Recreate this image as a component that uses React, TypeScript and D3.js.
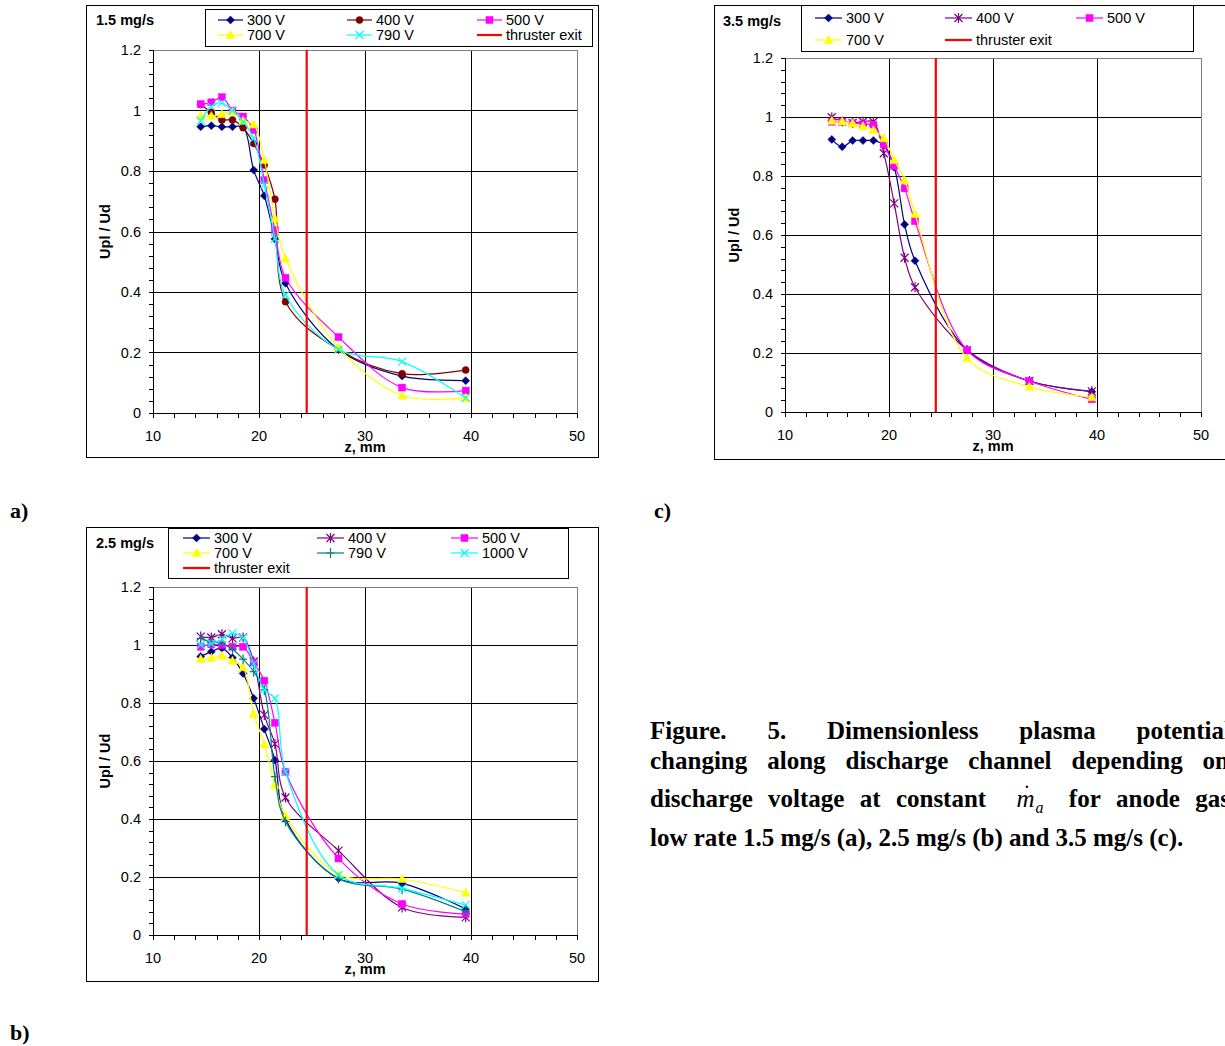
import React from "react";
import * as d3 from "d3";

// ---------- data ----------
const zPos = [14.5, 15.5, 16.5, 17.5, 18.5, 19.5, 20.5, 21.5, 22.5, 27.5, 33.5, 39.5];
const thrusterExit = 24.5;
const xTicks = [10, 20, 30, 40, 50];
const yTicks = [0, 0.2, 0.4, 0.6, 0.8, 1, 1.2];

// Panel a) 1.5 mg/s
const a300 = [0.946, 0.95, 0.946, 0.946, 0.946, 0.803, 0.718, 0.575, 0.429, 0.21, 0.122, 0.107];
const a400 = [1.02, 0.994, 0.969, 0.969, 0.943, 0.891, 0.82, 0.707, 0.368, 0.21, 0.13, 0.142];
const a500 = [1.021, 1.027, 1.044, 1.0, 0.98, 0.936, 0.77, 0.605, 0.447, 0.251, 0.084, 0.074];
const a700 = [0.982, 0.982, 0.988, 0.996, 0.966, 0.954, 0.836, 0.643, 0.511, 0.217, 0.058, 0.05];
const a790 = [0.966, 1.013, 1.025, 1.0, 0.963, 0.908, 0.754, 0.577, 0.39, 0.21, 0.17, 0.05];

// Panel b) 2.5 mg/s
const b300 = [0.96, 0.977, 0.989, 0.956, 0.902, 0.816, 0.71, 0.603, 0.4, 0.195, 0.178, 0.09];
const b400 = [1.029, 1.026, 1.037, 1.023, 1.026, 0.943, 0.759, 0.659, 0.474, 0.291, 0.095, 0.061];
const b500 = [0.994, 1.002, 1.0, 0.994, 0.994, 0.94, 0.877, 0.732, 0.563, 0.264, 0.107, 0.072];
const b700 = [0.952, 0.956, 0.963, 0.946, 0.923, 0.762, 0.658, 0.517, 0.41, 0.209, 0.193, 0.146];
const b790 = [1.023, 1.011, 1.006, 0.985, 0.951, 0.908, 0.845, 0.546, 0.391, 0.195, 0.158, 0.08];
const b1000 = [1.0, 1.005, 1.02, 1.04, 1.025, 0.935, 0.845, 0.816, 0.563, 0.207, 0.161, 0.103];

// Panel c) 3.5 mg/s
const c300 = [0.924, 0.899, 0.92, 0.92, 0.92, 0.905, 0.83, 0.636, 0.513, 0.21, 0.105, 0.069];
const c400 = [0.999, 0.985, 0.98, 0.984, 0.984, 0.877, 0.707, 0.523, 0.423, 0.21, 0.105, 0.07];
const c500 = [0.984, 0.984, 0.979, 0.975, 0.973, 0.907, 0.834, 0.758, 0.647, 0.21, 0.105, 0.043];
const c700 = [0.987, 0.985, 0.978, 0.969, 0.956, 0.928, 0.854, 0.786, 0.671, 0.182, 0.086, 0.05];

// caption lines (justified words)
const capLine1 = ["Figure.", "5.", "Dimensionless", "plasma", "potential"];
const capLine2 = ["changing", "along", "discharge", "channel", "depending", "on"];
const capLine3 = ["discharge", "voltage", "at", "constant", "§MA§", "for", "anode", "gas"];
const capLine4 = "low rate 1.5 mg/s (a), 2.5 mg/s (b) and 3.5 mg/s (c).";

type Series = { name: string; values: number[]; color: string; marker: string };

const seriesA: Series[] = [
  { name: "300 V", values: a300, color: "#000080", marker: "diamond" },
  { name: "400 V", values: a400, color: "#800000", marker: "circle" },
  { name: "500 V", values: a500, color: "#FF00FF", marker: "square" },
  { name: "700 V", values: a700, color: "#FFFF00", marker: "triangle" },
  { name: "790 V", values: a790, color: "#00FFFF", marker: "x" },
];
const seriesB: Series[] = [
  { name: "300 V", values: b300, color: "#000080", marker: "diamond" },
  { name: "400 V", values: b400, color: "#800080", marker: "asterisk" },
  { name: "500 V", values: b500, color: "#FF00FF", marker: "square" },
  { name: "700 V", values: b700, color: "#FFFF00", marker: "triangle" },
  { name: "790 V", values: b790, color: "#008080", marker: "plus" },
  { name: "1000 V", values: b1000, color: "#00FFFF", marker: "x" },
];
const seriesC: Series[] = [
  { name: "300 V", values: c300, color: "#000080", marker: "diamond" },
  { name: "400 V", values: c400, color: "#800080", marker: "asterisk" },
  { name: "500 V", values: c500, color: "#FF00FF", marker: "square" },
  { name: "700 V", values: c700, color: "#FFFF00", marker: "triangle" },
];

const FONT = "'Liberation Sans', Arial, sans-serif";
const SERIF = "'Liberation Serif', 'Times New Roman', serif";
const CAP_SIZE = 25;

function Marker({ type, x, y, color }: { type: string; x: number; y: number; color: string }) {
  const t = `translate(${x},${y})`;
  switch (type) {
    case "diamond":
      return <path transform={t} d="M0,-4L4,0L0,4L-4,0Z" fill={color} stroke={color} strokeWidth={0.5} />;
    case "circle":
      return <circle cx={x} cy={y} r={3.5} fill={color} stroke={color} strokeWidth={0.5} />;
    case "square":
      return <rect x={x - 3.5} y={y - 3.5} width={7} height={7} fill={color} stroke={color} strokeWidth={0.5} />;
    case "triangle":
      return <path transform={t} d="M0,-4.5L4.5,3.5L-4.5,3.5Z" fill={color} stroke={color} strokeWidth={0.5} />;
    case "x":
      return <path transform={t} d="M-4,-4L4,4M-4,4L4,-4" fill="none" stroke={color} strokeWidth={1.2} />;
    case "asterisk":
      return <path transform={t} d="M-4,-4L4,4M-4,4L4,-4M0,-5L0,5" fill="none" stroke={color} strokeWidth={1.2} />;
    case "plus":
      return <path transform={t} d="M-4,0L4,0M0,-5L0,5" fill="none" stroke={color} strokeWidth={1.2} />;
    default:
      return null;
  }
}

type PanelProps = {
  title: string;
  series: Series[];
  box: { x: number; y: number; w: number; h: number };
  plot: { left: number; right: number; top: number; bottom: number };
  titlePos: { x: number; y: number };
  legendBox: { x: number; y: number; w: number; h: number };
  legendCols: number[];
  legendRows: number[];
  legendLine: number;
  yLabelX: number;
};

function Panel(p: PanelProps) {
  const xs = d3.scaleLinear().domain([10, 50]).range([p.plot.left, p.plot.right]);
  const ys = d3.scaleLinear().domain([0, 1.2]).range([p.plot.bottom, p.plot.top]);
  const line = d3
    .line<number>()
    .x((_, i) => xs(zPos[i]))
    .y((d) => ys(d))
    .curve(d3.curveCatmullRom.alpha(0.5));
  const minorY = d3.range(0, 31).map((i) => i * 0.04);
  const minorX = d3.range(10, 51, 2);

  const legendItems = [...p.series.map((s) => ({ ...s, exit: false })), { name: "thruster exit", values: [], color: "#FF0000", marker: "", exit: true }];

  return (
    <g>
      <rect x={p.box.x + 0.5} y={p.box.y + 0.5} width={p.box.w} height={p.box.h} fill="white" stroke="black" strokeWidth={1} />
      <text x={p.titlePos.x} y={p.titlePos.y} fontFamily={FONT} fontWeight="bold" fontSize={14.5}>
        {p.title}
      </text>
      {yTicks.slice(1, -1).map((t) => (
        <line key={"gy" + t} x1={p.plot.left} x2={p.plot.right} y1={Math.round(ys(t)) + 0.5} y2={Math.round(ys(t)) + 0.5} stroke="black" strokeWidth={1} />
      ))}
      {xTicks.slice(1, -1).map((t) => (
        <line key={"gx" + t} y1={p.plot.top} y2={p.plot.bottom} x1={Math.round(xs(t)) + 0.5} x2={Math.round(xs(t)) + 0.5} stroke="black" strokeWidth={1} />
      ))}
      <line x1={p.plot.left} x2={p.plot.right} y1={p.plot.top + 0.5} y2={p.plot.top + 0.5} stroke="#808080" />
      <line x1={p.plot.right + 0.5} x2={p.plot.right + 0.5} y1={p.plot.top} y2={p.plot.bottom} stroke="#808080" />
      <line x1={p.plot.left + 0.5} x2={p.plot.left + 0.5} y1={p.plot.top} y2={p.plot.bottom} stroke="black" />
      <line x1={p.plot.left} x2={p.plot.right + 1} y1={p.plot.bottom + 0.5} y2={p.plot.bottom + 0.5} stroke="black" />
      {minorY.map((t) => (
        <line key={"my" + t} x1={p.plot.left - 4} x2={p.plot.left} y1={Math.round(ys(t)) + 0.5} y2={Math.round(ys(t)) + 0.5} stroke="black" />
      ))}
      {minorX.map((t) => (
        <line key={"mx" + t} y1={p.plot.bottom} y2={p.plot.bottom + 5} x1={Math.round(xs(t)) + 0.5} x2={Math.round(xs(t)) + 0.5} stroke="black" />
      ))}
      {yTicks.map((t) => (
        <text key={"ty" + t} x={p.plot.left - 12} y={ys(t) + 5} textAnchor="end" fontFamily={FONT} fontSize={14.5}>
          {d3.format("")(t)}
        </text>
      ))}
      {xTicks.map((t) => (
        <text key={"tx" + t} x={xs(t)} y={p.plot.bottom + 28} textAnchor="middle" fontFamily={FONT} fontSize={14.5}>
          {t}
        </text>
      ))}
      <text x={xs(30)} y={p.plot.bottom + 39} textAnchor="middle" fontFamily={FONT} fontSize={14.5} fontWeight="bold">
        z, mm
      </text>
      <text
        transform={`translate(${p.yLabelX},${(p.plot.top + p.plot.bottom) / 2}) rotate(-90)`}
        textAnchor="middle"
        fontFamily={FONT}
        fontSize={14.5}
        fontWeight="bold"
      >
        Upl / Ud
      </text>
      {p.series.map((s) => (
        <g key={s.name}>
          <path d={line(s.values) || ""} fill="none" stroke={s.color} strokeWidth={1.2} />
          {s.values.map((v, i) => (
            <Marker key={i} type={s.marker} x={xs(zPos[i])} y={ys(v)} color={s.color} />
          ))}
        </g>
      ))}
      <line x1={xs(thrusterExit)} x2={xs(thrusterExit)} y1={ys(1.2)} y2={ys(0)} stroke="#FF0000" strokeWidth={2.2} />
      <rect x={p.legendBox.x + 0.5} y={p.legendBox.y + 0.5} width={p.legendBox.w} height={p.legendBox.h} fill="white" stroke="black" />
      {legendItems.map((it, i) => {
        const cx = p.legendCols[i % 3];
        const cy = p.legendRows[Math.floor(i / 3)];
        return (
          <g key={"lg" + i}>
            <line x1={cx} x2={cx + p.legendLine} y1={cy} y2={cy} stroke={it.color} strokeWidth={it.exit ? 2.2 : 1.2} />
            {!it.exit && <Marker type={it.marker} x={cx + p.legendLine / 2} y={cy} color={it.color} />}
            <text x={cx + p.legendLine + 4} y={cy + 5} fontFamily={FONT} fontSize={14.5}>
              {it.name}
            </text>
          </g>
        );
      })}
    </g>
  );
}

let ctx: CanvasRenderingContext2D | null = null;
function measure(word: string): number {
  if (word === "§MA§") return 52;
  if (!ctx && typeof document !== "undefined") {
    ctx = document.createElement("canvas").getContext("2d");
  }
  if (!ctx) return word.length * CAP_SIZE * 0.5;
  ctx.font = `bold ${CAP_SIZE}px 'Liberation Serif'`;
  return ctx.measureText(word).width;
}

function Justified({ words, x0, x1, y }: { words: string[]; x0: number; x1: number; y: number }) {
  const widths = words.map(measure);
  const total = d3.sum(widths);
  const gap = (x1 - x0 - total) / (words.length - 1);
  let x = x0;
  return (
    <g>
      {words.map((w, i) => {
        const px = x;
        x += widths[i] + gap;
        if (w === "§MA§") {
          return (
            <g key={i}>
              <text x={px + 15} y={y} fontStyle="italic" fontWeight="normal">m</text>
              <text x={px + 22} y={y - 13} fontWeight="normal" fontSize={20}>·</text>
              <text x={px + 34} y={y + 6} fontStyle="italic" fontWeight="normal" fontSize={16}>a</text>
            </g>
          );
        }
        return (
          <text key={i} x={px} y={y}>
            {w}
          </text>
        );
      })}
    </g>
  );
}

export default function App() {
  const cap = { fontFamily: SERIF, fontWeight: "bold" as const, fontSize: CAP_SIZE };
  return (
    <svg width={1225} height={1046} style={{ position: "absolute", left: 0, top: 0, background: "white" }}>
      <Panel
        title="1.5 mg/s"
        series={seriesA}
        box={{ x: 86, y: 5, w: 512, h: 452 }}
        plot={{ left: 153, right: 577, top: 50, bottom: 413 }}
        titlePos={{ x: 96, y: 25 }}
        legendBox={{ x: 205, y: 9, w: 387, h: 37 }}
        legendCols={[218, 347, 477]}
        legendRows={[20, 35]}
        legendLine={25}
        yLabelX={110}
      />
      <Panel
        title="3.5 mg/s"
        series={seriesC}
        box={{ x: 714, y: 5, w: 520, h: 454 }}
        plot={{ left: 785, right: 1201, top: 58, bottom: 412 }}
        titlePos={{ x: 723, y: 26 }}
        legendBox={{ x: 801, y: 5, w: 392, h: 46 }}
        legendCols={[815, 945, 1076]}
        legendRows={[18, 40]}
        legendLine={27}
        yLabelX={739}
      />
      <Panel
        title="2.5 mg/s"
        series={seriesB}
        box={{ x: 86, y: 527, w: 512, h: 454 }}
        plot={{ left: 153, right: 577, top: 587, bottom: 935 }}
        titlePos={{ x: 96, y: 548 }}
        legendBox={{ x: 168, y: 528, w: 400, h: 50 }}
        legendCols={[183, 317, 451]}
        legendRows={[538, 553, 568]}
        legendLine={27}
        yLabelX={110}
      />
      <text x={10} y={518} {...cap} fontSize={22}>a)</text>
      <text x={654} y={518} {...cap} fontSize={22}>c)</text>
      <text x={10} y={1040} {...cap} fontSize={22}>b)</text>
      <g {...cap}>
        <Justified words={capLine1} x0={650} x1={1231} y={739} />
        <Justified words={capLine2} x0={650} x1={1229} y={769} />
        <Justified words={capLine3} x0={650} x1={1230} y={807} />
        <text x={650} y={846}>{capLine4}</text>
      </g>
    </svg>
  );
}
